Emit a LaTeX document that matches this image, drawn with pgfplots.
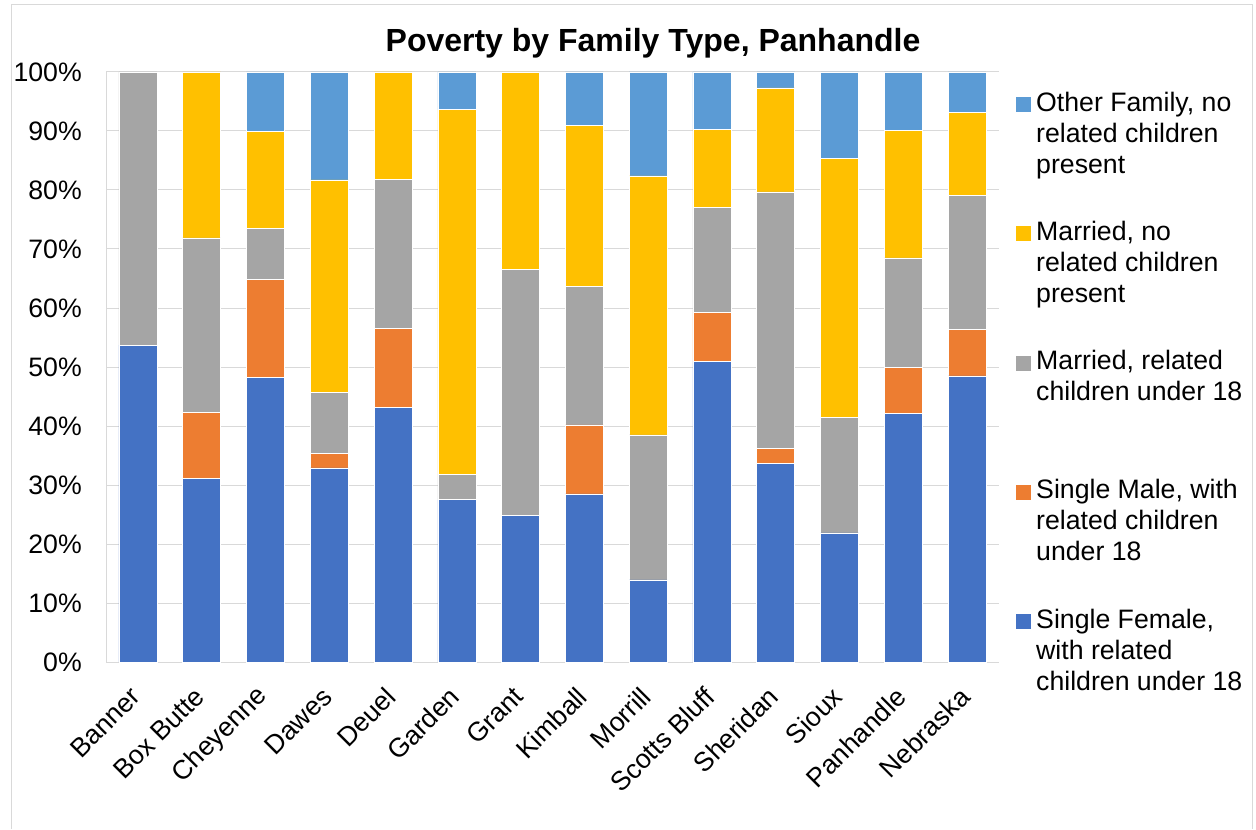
\documentclass[border=0pt]{standalone}
\usepackage{fontspec}
\setmainfont{Liberation Sans}
\usepackage{pgfplots}
\usepackage{pgfplotstable}
\pgfplotsset{compat=1.18}
\definecolor{cSF}{HTML}{4472C4}
\definecolor{cSM}{HTML}{ED7D31}
\definecolor{cMR}{HTML}{A5A5A5}
\definecolor{cMN}{HTML}{FFC000}
\definecolor{cOF}{HTML}{5B9BD5}
\definecolor{gridc}{HTML}{D9D9D9}

\pgfplotstableread{
x  sf    sm    mr    mn    of
0  53.7  0.0   46.3  0.0   0.0
1  31.1  11.2  29.6  28.1  0.0
2  48.2  16.7  8.6   16.4  10.1
3  32.9  2.5   10.3  36.0  18.3
4  43.1  13.5  25.2  18.2  0.0
5  27.5  0.0   4.3   61.8  6.4
6  24.9  0.0   41.7  33.4  0.0
7  28.5  11.7  23.4  27.3  9.1
8  13.9  0.0   24.6  43.9  17.6
9  50.9  8.3   17.8  13.3  9.7
10 33.6  2.6   43.5  17.6  2.7
11 21.9  0.0   19.5  44.0  14.6
12 42.2  7.7   18.6  21.6  9.9
13 48.5  7.9   22.7  14.0  6.9
}\datatable

\begin{document}
\begin{tikzpicture}
\useasboundingbox (0,0) rectangle (942pt,621.75pt);
\draw[color=gridc, line width=0.75pt] (8.25pt,0) -- (8.25pt,618pt) -- (939pt,618pt) -- (939pt,0);
\node[anchor=base, font=\bfseries\fontsize{24}{28}\selectfont] at (489.75pt,582.75pt) {Poverty by Family Type, Panhandle};
\begin{axis}[
  at={(79.5pt,125.25pt)}, anchor=south west,
  scale only axis, width=669.75pt, height=442.5pt,
  ybar stacked, bar width=28.5pt,
  xmin=-0.5, xmax=13.5, ymin=0, ymax=100,
  xtick={0,...,13},
  xticklabels={Banner,Box Butte,Cheyenne,Dawes,Deuel,Garden,Grant,Kimball,Morrill,Scotts Bluff,Sheridan,Sioux,Panhandle,Nebraska},
  ytick={0,10,...,100},
  yticklabels={0\%,10\%,20\%,30\%,40\%,50\%,60\%,70\%,80\%,90\%,100\%},
  ymajorgrids, grid style={gridc, line width=0.75pt},
  axis x line*=bottom, axis y line*=left,
  axis line style={gridc, line width=0.75pt},
  major tick length=0pt,
  tick label style={font=\fontsize{20}{24}\selectfont, text=black},
  xticklabel style={yshift=-22.5pt, xshift=-1.5pt, rotate=45, anchor=east, inner sep=0pt},
  yticklabel style={anchor=east, inner sep=0pt, xshift=-18pt},
  every axis plot/.append style={draw=white, line width=0.4pt},
  reverse legend,
  legend cell align=left,
  legend image code/.code={\fill[#1,draw=none] (0pt,-8pt) rectangle (11.25pt,3.25pt);},
  legend style={at={(1.019,0.9705)}, anchor=north west, draw=none, fill=none,
    inner sep=0pt, row sep=79.1pt, column sep=3.75pt,
    nodes={inner sep=0pt},
    font=\fontsize{20}{23.25}\selectfont},
]
\addplot[fill=cSF] table[x=x, y=sf] {\datatable};
\addlegendentry{\parbox[t]{200pt}{\raggedright\strut Single Female,\\with related\\children under 18\strut}}
\addplot[fill=cSM] table[x=x, y=sm] {\datatable};
\addlegendentry{\parbox[t]{200pt}{\raggedright\strut Single Male, with\\related children\\under 18\strut}}
\addplot[fill=cMR] table[x=x, y=mr] {\datatable};
\addlegendentry{\parbox[t]{200pt}{\raggedright\strut Married, related\\children under 18\\\strut}}
\addplot[fill=cMN] table[x=x, y=mn] {\datatable};
\addlegendentry{\parbox[t]{200pt}{\raggedright\strut Married, no\\related children\\present\strut}}
\addplot[fill=cOF] table[x=x, y=of] {\datatable};
\addlegendentry{\parbox[t]{200pt}{\raggedright\strut Other Family, no\\related children\\present\strut}}
\end{axis}
\end{tikzpicture}
\end{document}
